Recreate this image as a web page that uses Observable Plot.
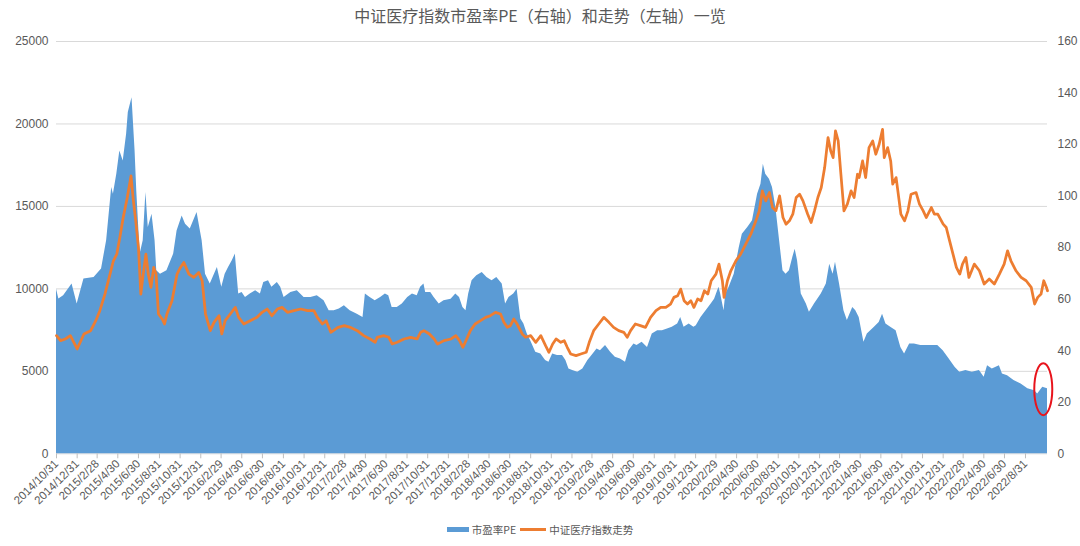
<!DOCTYPE html>
<html>
<head>
<meta charset="utf-8">
<script src="https://cdn.jsdelivr.net/npm/d3@7"></script>
<script src="https://cdn.jsdelivr.net/npm/@observablehq/plot@0.6"></script>
<style>
  html, body { margin: 0; padding: 0; background: #fff; overflow: hidden; }
  #wrap { position: relative; width: 1080px; height: 546px; font-family: "Liberation Sans", "Noto Sans CJK SC", sans-serif; }
  #title { position: absolute; top: 0; left: 0; width: 1080px; height: 30px; line-height: 30px; text-align: center;
           font-family: "Noto Sans CJK SC", sans-serif; font-size: 16px; color: #595959; }
  #chart { position: absolute; top: 30px; left: 0; }
  #legend { position: absolute; top: 521px; left: 0; width: 1080px; height: 17px; display: flex; justify-content: center;
            align-items: center; font-family: "Noto Sans CJK SC", sans-serif; font-size: 10.5px; color: #595959; }
  .sw { display: inline-block; margin-right: 3px; }
  .item { display: flex; align-items: center; margin: 0 2px; }
</style>
</head>
<body>
<div id="wrap">
  <div id="title"></div>
  <div id="chart"></div>
  <div id="legend"></div>
</div>
<script>
// ---------------- data ----------------
const titleText = "中证医疗指数市盈率PE（右轴）和走势（左轴）一览";
const seriesNames = ["市盈率PE", "中证医疗指数走势"];

// PE (right axis)
const peDates = [
  "2014-10-31","2014-11-07","2014-11-21","2014-12-16","2014-12-31","2015-01-20","2015-02-19","2015-03-13","2015-03-28","2015-04-12",
  "2015-04-17","2015-04-27","2015-05-06","2015-05-16","2015-05-26","2015-05-31","2015-06-11","2015-06-20","2015-06-25","2015-07-05",
  "2015-07-14","2015-07-22","2015-07-29","2015-08-09","2015-08-18","2015-08-23","2015-09-03","2015-09-22","2015-10-12","2015-10-22",
  "2015-11-06","2015-11-16","2015-11-30","2015-12-20","2016-01-04","2016-01-14","2016-01-28","2016-02-18","2016-03-02","2016-03-12",
  "2016-03-22","2016-04-02","2016-04-11","2016-04-16","2016-04-21","2016-05-01","2016-05-11","2016-05-25","2016-06-10","2016-06-24",
  "2016-07-04","2016-07-18","2016-07-28","2016-08-13","2016-08-23","2016-09-02","2016-09-22","2016-10-11","2016-10-31","2016-11-20",
  "2016-12-09","2016-12-29","2017-01-13","2017-01-28","2017-02-12","2017-02-27","2017-03-16","2017-04-06","2017-04-23","2017-04-30",
  "2017-05-14","2017-05-29","2017-06-14","2017-06-28","2017-07-08","2017-07-18","2017-08-02","2017-08-17","2017-09-02","2017-09-16",
  "2017-09-30","2017-10-10","2017-10-20","2017-10-25","2017-11-09","2017-11-19","2017-12-04","2017-12-18","2018-01-08","2018-01-22",
  "2018-02-02","2018-02-12","2018-02-21","2018-03-01","2018-03-11","2018-03-25","2018-04-10","2018-04-24","2018-05-09","2018-05-23",
  "2018-06-08","2018-06-18","2018-06-28","2018-07-12","2018-07-22","2018-08-02","2018-08-11","2018-08-21","2018-08-31","2018-09-15",
  "2018-09-30","2018-10-14","2018-10-24","2018-11-04","2018-11-18","2018-12-03","2018-12-13","2018-12-22","2019-01-02","2019-01-17",
  "2019-02-01","2019-02-16","2019-02-28","2019-03-15","2019-03-25","2019-04-09","2019-04-24","2019-05-08","2019-05-23","2019-06-07",
  "2019-06-17","2019-07-02","2019-07-11","2019-07-26","2019-08-11","2019-08-25","2019-09-10","2019-09-24","2019-10-09","2019-10-23",
  "2019-11-08","2019-11-17","2019-11-27","2019-12-12","2019-12-26","2020-01-02","2020-01-16","2020-01-31","2020-02-15","2020-02-25",
  "2020-03-09","2020-03-14","2020-03-24","2020-03-29","2020-04-08","2020-04-23","2020-05-08","2020-05-17","2020-06-02","2020-06-16",
  "2020-07-01","2020-07-11","2020-07-18","2020-07-25","2020-08-05","2020-08-14","2020-08-24","2020-09-04","2020-09-14","2020-09-23",
  "2020-10-03","2020-10-13","2020-10-20","2020-10-27","2020-11-07","2020-11-22","2020-12-01","2020-12-16","2021-01-05","2021-01-20",
  "2021-01-30","2021-02-09","2021-02-16","2021-02-28","2021-03-13","2021-03-23","2021-04-08","2021-04-17","2021-04-27","2021-05-11",
  "2021-05-21","2021-06-11","2021-06-25","2021-07-05","2021-07-15","2021-07-29","2021-08-14","2021-08-28","2021-09-08","2021-09-23",
  "2021-10-07","2021-10-26","2021-11-16","2021-12-15","2021-12-31","2022-01-14","2022-02-04","2022-02-18","2022-03-08","2022-03-27",
  "2022-04-17","2022-05-01","2022-05-11","2022-05-25","2022-06-15","2022-06-24","2022-07-09","2022-07-28","2022-08-18","2022-09-07",
  "2022-09-27","2022-10-06","2022-10-21","2022-11-04"
];
const peValues = [
  63.9,60.1,61.3,65.9,58.1,67.8,68.4,71.7,82.7,103.3,
  100.7,108.5,117.5,113.6,124.0,132.4,138.2,117.5,102.0,77.5,
  82.7,101.4,87.8,93.0,82.7,71.0,69.7,71.0,77.5,86.5,
  92.3,89.1,87.2,93.6,82.7,69.7,65.9,72.3,64.6,69.7,
  72.3,74.9,77.5,69.7,62.0,62.6,60.7,62.0,63.3,62.0,
  66.5,67.2,64.6,66.5,64.6,60.7,62.6,63.3,60.7,60.7,
  61.3,59.4,55.5,55.5,56.2,57.5,55.5,54.2,52.9,62.0,
  60.7,59.4,60.7,62.0,61.3,56.8,56.8,58.1,60.7,62.0,
  61.3,64.6,65.9,62.6,62.6,60.7,58.1,59.4,60.0,62.0,
  60.7,56.8,55.5,62.0,67.2,69.1,70.4,68.4,67.2,68.4,
  65.9,58.1,60.7,62.0,63.9,52.3,50.4,46.5,43.9,39.4,
  38.7,36.2,35.5,38.7,38.1,38.1,36.2,32.9,32.3,31.6,
  32.9,36.2,38.1,40.7,40.0,42.0,39.4,37.5,36.8,35.5,
  40.0,42.6,42.0,43.3,41.3,46.5,47.8,47.8,48.4,49.1,
  50.4,52.9,49.1,50.4,49.1,49.7,52.9,55.5,58.1,60.0,
  64.6,62.0,55.5,62.0,64.6,69.7,80.1,85.2,87.8,90.4,
  100.7,104.6,112.4,108.5,106.5,103.3,95.6,82.7,71.0,69.7,
  71.0,76.2,79.4,74.9,62.0,58.1,54.9,58.1,62.0,65.9,
  73.6,69.7,74.3,65.9,55.5,51.7,56.8,55.5,52.9,43.3,
  46.5,49.1,51.0,54.2,50.4,49.1,47.8,41.3,38.7,42.6,
  42.6,42.0,42.0,42.0,40.0,37.5,33.6,31.6,32.3,31.6,
  32.3,29.7,34.2,32.9,34.2,31.0,30.3,28.4,27.1,25.2,
  24.5,23.2,25.8,25.2
];

// Index level (left axis)
const indexDates = [
  "2014-10-31","2014-11-12","2014-11-26","2014-12-11","2014-12-31","2015-01-20","2015-02-09","2015-02-24","2015-03-08","2015-03-23",
  "2015-04-07","2015-04-17","2015-04-27","2015-05-06","2015-05-16","2015-05-28","2015-06-08","2015-06-15","2015-06-22","2015-06-30",
  "2015-07-07","2015-07-14","2015-07-22","2015-07-29","2015-08-06","2015-08-14","2015-08-21","2015-08-28","2015-09-08","2015-09-15",
  "2015-09-22","2015-10-07","2015-10-22","2015-11-01","2015-11-11","2015-11-26","2015-12-10","2015-12-25","2016-01-04","2016-01-14",
  "2016-01-28","2016-02-08","2016-02-23","2016-03-02","2016-03-12","2016-03-27","2016-04-11","2016-04-21","2016-05-06","2016-05-25",
  "2016-06-14","2016-06-29","2016-07-14","2016-07-28","2016-08-13","2016-08-27","2016-09-12","2016-10-01","2016-10-21","2016-11-10",
  "2016-11-29","2016-12-09","2016-12-24","2017-01-04","2017-01-18","2017-02-08","2017-02-27","2017-03-16","2017-04-06","2017-04-25",
  "2017-05-14","2017-05-29","2017-06-04","2017-06-23","2017-07-08","2017-07-18","2017-08-02","2017-08-22","2017-09-11","2017-09-30",
  "2017-10-10","2017-10-20","2017-11-05","2017-11-19","2017-11-29","2017-12-18","2018-01-08","2018-01-22","2018-02-02","2018-02-12",
  "2018-02-21","2018-03-06","2018-03-20","2018-04-05","2018-04-20","2018-05-04","2018-05-19","2018-06-03","2018-06-13","2018-06-23",
  "2018-07-02","2018-07-12","2018-07-22","2018-08-06","2018-08-16","2018-08-31","2018-09-15","2018-09-30","2018-10-14","2018-10-24",
  "2018-11-04","2018-11-14","2018-11-28","2018-12-08","2018-12-17","2018-12-27","2019-01-12","2019-01-26","2019-02-11","2019-02-20",
  "2019-03-05","2019-03-20","2019-04-04","2019-04-19","2019-05-03","2019-05-18","2019-06-02","2019-06-12","2019-06-22","2019-07-06",
  "2019-07-21","2019-08-05","2019-08-20","2019-09-05","2019-09-19","2019-10-04","2019-10-18","2019-10-28","2019-11-08","2019-11-17",
  "2019-11-27","2019-12-07","2019-12-17","2019-12-26","2020-01-06","2020-01-16","2020-01-26","2020-02-05","2020-02-15","2020-02-29",
  "2020-03-09","2020-03-19","2020-03-24","2020-04-03","2020-04-13","2020-04-28","2020-05-12","2020-05-27","2020-06-11","2020-06-26",
  "2020-07-06","2020-07-15","2020-07-25","2020-08-05","2020-08-14","2020-08-24","2020-09-04","2020-09-14","2020-09-23","2020-10-03",
  "2020-10-13","2020-10-23","2020-11-02","2020-11-12","2020-11-26","2020-12-06","2020-12-16","2020-12-26","2021-01-05","2021-01-15",
  "2021-01-25","2021-02-02","2021-02-09","2021-02-16","2021-02-24","2021-03-04","2021-03-13","2021-03-23","2021-04-03","2021-04-12",
  "2021-04-22","2021-04-27","2021-05-07","2021-05-16","2021-05-26","2021-06-06","2021-06-15","2021-06-25","2021-07-05","2021-07-10",
  "2021-07-20","2021-07-29","2021-08-04","2021-08-14","2021-08-23","2021-08-28","2021-09-08","2021-09-18","2021-09-27","2021-10-12",
  "2021-10-22","2021-11-02","2021-11-11","2021-11-26","2021-12-05","2021-12-15","2021-12-31","2022-01-09","2022-01-19","2022-01-29",
  "2022-02-08","2022-02-18","2022-02-26","2022-03-08","2022-03-17","2022-04-02","2022-04-17","2022-05-01","2022-05-16","2022-05-31",
  "2022-06-15","2022-06-29","2022-07-09","2022-07-19","2022-08-03","2022-08-18","2022-09-02","2022-09-17","2022-09-27","2022-10-06",
  "2022-10-16","2022-10-24","2022-11-01","2022-11-04"
];
const indexValues = [
  7164,6861,6962,7164,6357,7265,7467,8072,8677,9686,
  10897,11704,12108,13117,14328,15539,16850,15337,14126,12512,
  9686,10897,12108,10897,10090,11301,10897,8476,8173,7870,
  8476,9283,10897,11301,11604,10897,10695,10998,10494,8476,
  7467,7971,8375,7265,8072,8476,8879,8274,7870,8072,
  8274,8577,8778,8375,8778,8879,8577,8677,8778,8677,
  8677,8274,7870,8072,7366,7668,7769,7668,7467,7164,
  6962,6760,7063,7164,7063,6659,6760,6962,7063,6962,
  7366,7467,7265,6962,6659,6861,6962,7164,6861,6458,
  6861,7467,7870,8072,8274,8375,8577,8476,7971,7668,
  7769,8173,7870,7265,7063,7164,6760,7164,6559,6155,
  6659,6962,6760,6861,6458,6054,5953,6054,6155,6760,
  7467,7870,8274,7971,7668,7467,7366,7063,7467,7870,
  7769,7668,8274,8677,8879,8879,9081,9485,9586,9989,
  9283,9081,9283,8879,9384,9283,9888,9686,10494,10897,
  11503,10494,9485,10494,11099,11704,12108,12713,13319,14126,
  14731,15942,15337,15841,14933,14731,15640,14328,13924,14126,
  14530,15539,15740,15337,14530,14025,14731,15539,16144,17355,
  19171,18364,17960,19575,18969,16951,14731,15135,15942,15539,
  16951,16749,17758,16749,18566,18969,18162,18767,19676,17960,
  18566,17758,16346,16749,15337,14530,14126,14731,15740,15841,
  15135,14731,14328,14933,14530,14530,13924,13722,12915,12108,
  11301,10897,11503,11906,10695,11503,11099,10292,10595,10292,
  10897,11503,12310,11704,11099,10695,10494,10090,9081,9485,
  9686,10494,10090,9888
];

const xTickLabels = [
  "2014/10/31","2014/12/31","2015/2/28","2015/4/30","2015/6/30","2015/8/31","2015/10/31","2015/12/31",
  "2016/2/29","2016/4/30","2016/6/30","2016/8/31","2016/10/31","2016/12/31",
  "2017/2/28","2017/4/30","2017/6/30","2017/8/31","2017/10/31","2017/12/31",
  "2018/2/28","2018/4/30","2018/6/30","2018/8/31","2018/10/31","2018/12/31",
  "2019/2/28","2019/4/30","2019/6/30","2019/8/31","2019/10/31","2019/12/31",
  "2020/2/29","2020/4/30","2020/6/30","2020/8/31","2020/10/31","2020/12/31",
  "2021/2/28","2021/4/30","2021/6/30","2021/8/31","2021/10/31","2021/12/31",
  "2022/2/28","2022/4/30","2022/6/30","2022/8/31"
];
const leftTicks = [0, 5000, 10000, 15000, 20000, 25000];
const rightTicks = [0, 20, 40, 60, 80, 100, 120, 140, 160];
const xDomain = ["2014-10-31", "2022-11-04"];
// highlighted point (red ellipse) : date, PE
const highlight = { date: "2022-10-24", pe: 24.9 };

// ---------------- build ----------------
const RATIO = leftTicks[leftTicks.length - 1] / rightTicks[rightTicks.length - 1]; // right -> left units
const parseTick = d3.utcParse("%Y/%m/%d");
const tickDates = xTickLabels.map(parseTick);
const labelByTime = new Map(tickDates.map((d, i) => [+d, xTickLabels[i]]));

const peRows = peDates.map((d, i) => ({ date: new Date(d), v: peValues[i] * RATIO }));
const idxRows = indexDates.map((d, i) => ({ date: new Date(d), v: indexValues[i] }));

const BLUE = "#5B9BD5", ORANGE = "#ED7D31", TXT = "#595959";

document.getElementById("title").textContent = titleText;

const ellipseMark = (index, scales) => {
  const e = d3.create("svg:ellipse")
    .attr("cx", scales.x(new Date(highlight.date)))
    .attr("cy", scales.y(highlight.pe * RATIO))
    .attr("rx", 9).attr("ry", 26)
    .attr("fill", "none").attr("stroke", "#E8141C").attr("stroke-width", 2);
  return e.node();
};

const chart = Plot.plot({
  width: 1080,
  height: 486,
  marginLeft: 56,
  marginRight: 33,
  marginTop: 11,
  marginBottom: 62.7,
  style: { fontFamily: "'Liberation Sans', 'Noto Sans CJK SC', sans-serif", fontSize: "12px", color: TXT, background: "white" },
  x: { type: "utc", domain: xDomain.map(d => new Date(d)), label: null },
  y: { domain: [0, 25000], label: null },
  marks: [
    Plot.gridY(leftTicks, { stroke: "#D9D9D9", strokeOpacity: 1, strokeWidth: 1 }),
    Plot.areaY(peRows, { x: "date", y: "v", fill: BLUE, fillOpacity: 1 }),
    Plot.lineY(idxRows, { x: "date", y: "v", stroke: ORANGE, strokeWidth: 2.75, strokeLinejoin: "round" }),
    Plot.axisY(leftTicks, { anchor: "left", tickSize: 0, tickPadding: 8, tickFormat: d => String(d), fill: TXT, fontSize: 12 }),
    Plot.axisY(rightTicks.map(t => t * RATIO), { anchor: "right", tickSize: 0, tickPadding: 10,
      tickFormat: d => String(Math.round(d / RATIO)), fill: TXT, fontSize: 12 }),
    Plot.axisX(tickDates, { anchor: "bottom", tickSize: 5, tickPadding: 3, tickRotate: -45, textAnchor: "end",
      tickFormat: d => labelByTime.get(+d), stroke: "#BFBFBF", fill: TXT, fontSize: 11.5 }),
    ellipseMark
  ]
});
document.getElementById("chart").appendChild(chart);

// legend
const lg = document.getElementById("legend");
lg.innerHTML =
  `<span class="item"><span class="sw" style="width:22px;height:5px;background:${BLUE}"></span>${seriesNames[0]}</span>` +
  `<span class="item"><span class="sw" style="width:26px;height:2.5px;background:${ORANGE}"></span>${seriesNames[1]}</span>`;
</script>
</body>
</html>
